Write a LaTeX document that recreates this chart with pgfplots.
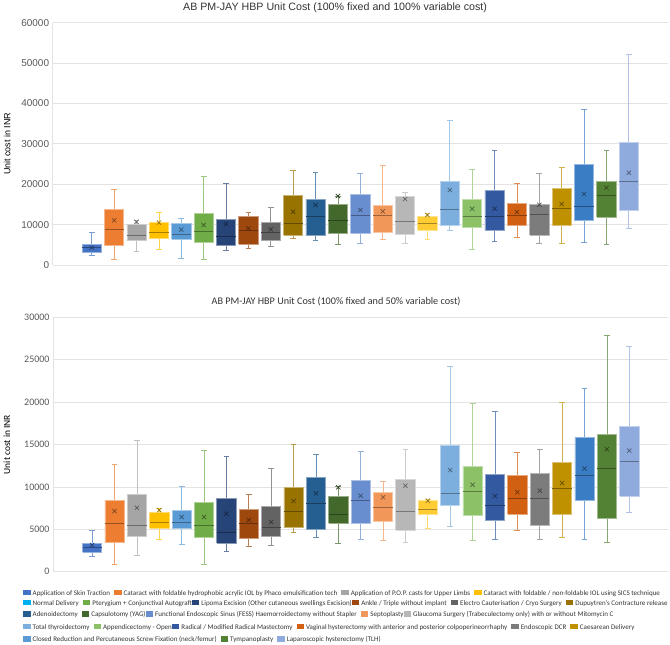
\documentclass[border=0pt]{standalone}
\usepackage{fontspec}
\setmainfont{Carlito}
\newfontfamily\arialf{Liberation Sans}
\usepackage{pgfplots}
\pgfplotsset{compat=1.18}

\definecolor{cA}{HTML}{4472C4}
\definecolor{cB}{HTML}{ED7D31}
\definecolor{cC}{HTML}{A5A5A5}
\definecolor{cD}{HTML}{FFC000}
\definecolor{cE}{HTML}{5B9BD5}
\definecolor{cF}{HTML}{70AD47}
\definecolor{cG}{HTML}{264478}
\definecolor{cH}{HTML}{9E480E}
\definecolor{cI}{HTML}{636363}
\definecolor{cJ}{HTML}{997300}
\definecolor{cK}{HTML}{255E91}
\definecolor{cL}{HTML}{43682B}
\definecolor{cM}{HTML}{698ED0}
\definecolor{cN}{HTML}{F1975A}
\definecolor{cO}{HTML}{B7B7B7}
\definecolor{cP}{HTML}{FFCD33}
\definecolor{cQ}{HTML}{7CAFDD}
\definecolor{cR}{HTML}{8CC168}
\definecolor{cS}{HTML}{335AA1}
\definecolor{cT}{HTML}{D26012}
\definecolor{cU}{HTML}{7C7C7C}
\definecolor{cV}{HTML}{BF9000}
\definecolor{cW}{HTML}{3A7DC4}
\definecolor{cX}{HTML}{548235}
\definecolor{cY}{HTML}{8FAADC}
\definecolor{cyanleg}{HTML}{00B0F0}
\definecolor{gridc}{HTML}{E3E3E3}
\definecolor{txt}{HTML}{595959}

% #1 position, #2 colour, #3 lower whisker, #4 lower quartile, #5 median, #6 upper quartile, #7 upper whisker, #8 mean
\newcommand{\bx}[8]{%
\pgfmathsetmacro{\xa}{#1-0.43}\pgfmathsetmacro{\xb}{#1+0.43}%
\pgfmathsetmacro{\wa}{#1-0.13}\pgfmathsetmacro{\wb}{#1+0.13}%
\addplot[draw=#2!70!white, line width=0.7pt] coordinates {(#1,#3) (#1,#7)};
\addplot[draw=#2!70!white, line width=0.7pt] coordinates {(\wa,#3) (\wb,#3)};
\addplot[draw=#2!70!white, line width=0.7pt] coordinates {(\wa,#7) (\wb,#7)};
\addplot[fill=#2, draw=#2!55!white, line width=0.7pt, line join=miter] coordinates {(\xa,#4) (\xb,#4) (\xb,#6) (\xa,#6) (\xa,#4)};
\addplot[draw=#2!65!black, line width=0.8pt] coordinates {(\xa,#5) (\xb,#5)};
\addplot[only marks, mark=x, mark size=3pt, mark options={draw=#2!55!black, line width=0.7pt}] coordinates {(#1,#8)};}

\newcommand{\sw}[1]{\textcolor{#1}{\rule{7.5bp}{5.5bp}}\hspace{2bp}}
\newcommand{\gap}{\hspace{4bp}}

\pgfplotsset{
 common/.style={
  scale only axis, width=615.4bp,
  xmin=-0.75, xmax=26.75, ymin=0,
  xtick=\empty,
  axis x line=none, axis y line*=left,
  y axis line style={draw=gridc, line width=0.8pt, -},
  ytick style={draw=none},
  ymajorgrids, grid style={draw=gridc, line width=0.8pt},
  scaled y ticks=false,
  /pgf/number format/assume math mode=true,
  /pgf/number format/1000 sep={},
  yticklabel style={text=txt},
  ylabel={Unit cost in INR},
  ylabel style={text=txt},
  clip=false,
 }
}

\begin{document}
\begin{tikzpicture}
\useasboundingbox (0,0) rectangle (670bp,-645bp);

\begin{axis}[common,
  at={(52.6bp,-265bp)}, anchor=south west, height=242.3bp,
  ymax=60000, ytick distance=10000,
  yticklabel style={font=\arialf\fontsize{10}{12}\selectfont},
  every axis y label/.style={at={(axis description cs:-0.074,0.5)}, rotate=90, anchor=center, font=\arialf\fontsize{9}{11}\selectfont},
  title={AB PM-JAY HBP Unit Cost (100\% fixed and 100\% variable cost)},
  title style={at={(axis description cs:0.459,1.037)}, anchor=center, font=\arialf\fontsize{10.7}{12}\selectfont, text=black!80},
]
\bx{1}{cA}{2300}{3050}{4300}{5100}{8000}{4300}
\bx{2}{cB}{1400}{4790}{8830}{13700}{18650}{11050}
\bx{3}{cC}{3470}{6020}{7340}{10070}{11150}{10700}
\bx{4}{cD}{3960}{6680}{8090}{10640}{13040}{10500}
\bx{5}{cE}{1650}{6350}{7590}{10230}{11470}{8750}
\bx{6}{cF}{1400}{5610}{8330}{12700}{21950}{9900}
\bx{7}{cG}{3710}{4950}{7010}{11300}{20130}{10150}
\bx{8}{cH}{4130}{5200}{8660}{11960}{13040}{9080}
\bx{9}{cI}{4540}{6190}{8170}{10480}{14360}{8830}
\bx{10}{cJ}{6600}{7340}{10400}{17160}{23430}{13200}
\bx{11}{cK}{6020}{7260}{11960}{16170}{22940}{14850}
\bx{12}{cL}{5120}{7840}{11140}{15100}{16900}{17080}
\bx{13}{cM}{5450}{7840}{12380}{17490}{22600}{13610}
\bx{14}{cN}{6440}{8000}{12380}{14690}{24590}{13280}
\bx{15}{cO}{5450}{7590}{10730}{17080}{17900}{16340}
\bx{16}{cP}{6440}{8660}{10310}{11960}{12790}{12380}
\bx{17}{cQ}{8500}{9900}{13700}{20790}{35890}{18560}
\bx{18}{cR}{3960}{9240}{12130}{16340}{23680}{13940}
\bx{19}{cS}{5860}{8660}{12050}{18400}{28380}{13940}
\bx{20}{cT}{6850}{9820}{12380}{15260}{20130}{13120}
\bx{21}{cU}{5450}{7430}{12540}{15100}{22690}{14900}
\bx{22}{cV}{5450}{9820}{14030}{18980}{24170}{15100}
\bx{23}{cW}{5610}{11060}{14440}{24920}{38530}{17570}
\bx{24}{cX}{5120}{11880}{17160}{20790}{28300}{19140}
\bx{25}{cY}{9160}{13450}{20630}{30280}{52060}{22850}
\end{axis}

\begin{axis}[common,
  at={(53bp,-571.7bp)}, anchor=south west, height=254.4bp,
  ymax=30000, ytick distance=5000,
  yticklabel style={font=\fontsize{10}{12}\selectfont},
  every axis y label/.style={at={(axis description cs:-0.075,0.5)}, rotate=90, anchor=center, font=\fontsize{9.5}{11}\selectfont},
  title={AB PM-JAY HBP Unit Cost (100\% fixed and 50\% variable cost)},
  title style={at={(axis description cs:0.46,1.0404)}, anchor=center, font=\fontsize{10.2}{12}\selectfont, text=black!80},
]
\bx{1}{cA}{1770}{2280}{2830}{3340}{4910}{3150}
\bx{2}{cB}{910}{3460}{5660}{8450}{12660}{7150}
\bx{3}{cC}{1930}{4210}{5420}{9120}{15530}{7550}
\bx{4}{cD}{3770}{5110}{5820}{7000}{7430}{7270}
\bx{5}{cE}{3220}{5110}{5820}{7230}{10100}{6450}
\bx{6}{cF}{900}{4010}{5460}{8180}{14310}{6450}
\bx{7}{cG}{2440}{3380}{4640}{8690}{13600}{6840}
\bx{8}{cH}{3030}{3930}{5700}{7310}{9120}{6090}
\bx{9}{cI}{3110}{4130}{5270}{7670}{12190}{5860}
\bx{10}{cJ}{4640}{5190}{7150}{9950}{15020}{8330}
\bx{11}{cK}{4090}{5030}{8100}{11160}{13840}{9240}
\bx{12}{cL}{3340}{5700}{6760}{8840}{10020}{9950}
\bx{13}{cM}{3850}{5700}{8410}{10770}{14230}{8960}
\bx{14}{cN}{3700}{5900}{7550}{9360}{10650}{8770}
\bx{15}{cO}{3420}{4870}{7110}{10850}{14470}{10140}
\bx{16}{cP}{5070}{6720}{7350}{8370}{8570}{8370}
\bx{17}{cQ}{5390}{7780}{9240}{14900}{24170}{11990}
\bx{18}{cR}{3700}{6640}{9470}{12380}{19850}{10260}
\bx{19}{cS}{3770}{6090}{7820}{11480}{18910}{8920}
\bx{20}{cT}{4830}{6800}{8650}{11320}{14110}{9360}
\bx{21}{cU}{3810}{5460}{8650}{11560}{14390}{9550}
\bx{22}{cV}{4090}{6720}{9830}{12850}{19970}{10460}
\bx{23}{cW}{3770}{8450}{11320}{15840}{21580}{12150}
\bx{24}{cX}{3500}{6290}{12220}{16230}{27910}{14430}
\bx{25}{cY}{7000}{8920}{13010}{17180}{26570}{14270}
\end{axis}

\begin{scope}[every node/.style={anchor=west, inner sep=0pt, font=\fontsize{7.05}{8}\selectfont, text=black!80}]
\node at (23bp,-593bp) {\sw{cA}Application of Skin Traction\gap\sw{cB}Cataract with foldable hydrophobic acrylic IOL by Phaco emulsification tech\gap\sw{cC}Application of P.O.P. casts for Upper Limbs\gap\sw{cD}Cataract with foldable / non-foldable IOL using SICS technique};
\node at (23bp,-603.3bp) {\sw{cyanleg}Normal Delivery\gap\sw{cF}Pterygium + Conjunctival Autograft\sw{cG}Lipoma Excision (Other cutaneous swellings Excision)\sw{cH}Ankle / Triple without implant\gap\sw{cI}Electro Cauterisation / Cryo Surgery\gap\sw{cJ}Dupuytren's Contracture release};
\node at (23bp,-614.7bp) {\sw{cK}Adenoidectomy\gap\sw{cL}Capsulotomy (YAG)\sw{cM}Functional Endoscopic Sinus (FESS) Haemorroidectomy without Stapler\gap\sw{cN}Septoplasty\sw{cO}Glaucoma Surgery (Trabeculectomy only) with or without Mitomycin C};
\node at (23bp,-627.3bp) {\sw{cQ}Total thyroidectomy\gap\sw{cR}Appendicectomy - Open\sw{cS}Radical / Modified Radical Mastectomy\gap\sw{cT}Vaginal hysterectomy with anterior and posterior colpoperineorrhaphy\gap\sw{cU}Endoscopic DCR\gap\sw{cV}Caesarean Delivery};
\node at (23bp,-639.7bp) {\sw{cE}Closed Reduction and Percutaneous Screw Fixation (neck/femur)\gap\sw{cX}Tympanoplasty\gap\sw{cY}Laparoscopic hysterectomy (TLH)};
\end{scope}
\end{tikzpicture}
\end{document}
